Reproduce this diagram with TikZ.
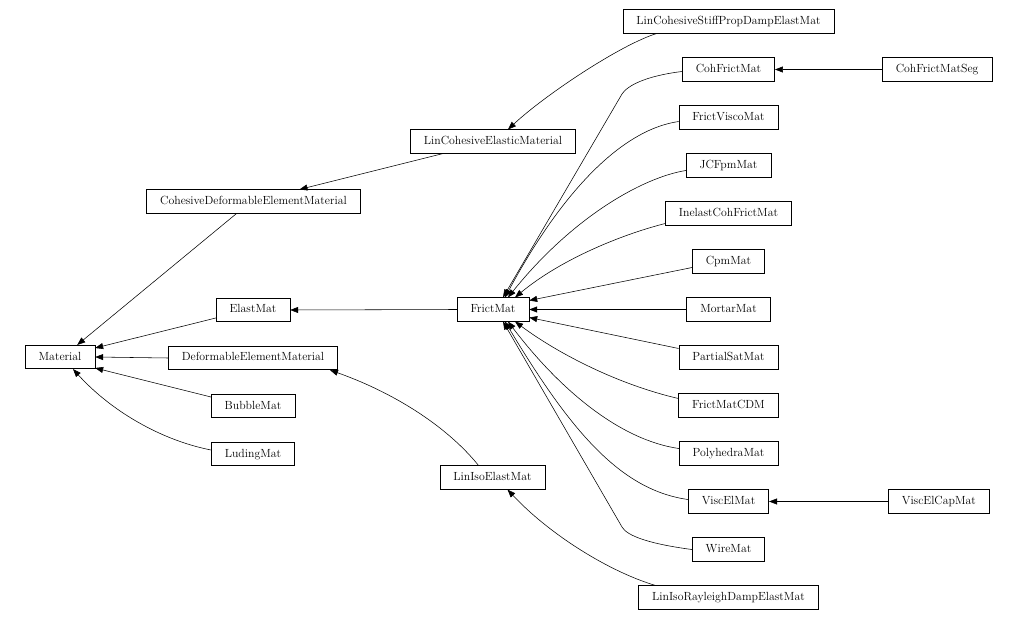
\documentclass[tikz,border=0pt]{standalone}
\usetikzlibrary{arrows.meta, positioning}
\tikzset{
    % Class box style
    classbox/.style={
        rectangle,
        draw=black,
        line width=0.6pt,
        fill=white,
        minimum height=23.5pt,
        inner xsep=13.5pt,
        inner ysep=2pt,
        text height=8.5pt,
        text depth=2.5pt,
        font=\fontsize{11.8}{14}\selectfont
    },
    % Inheritance arrow style
    inherit/.style={
        -{Triangle[length=8pt,width=6pt]},
        line width=0.55pt,
        color=black
    }
}

\begin{document}
\begin{tikzpicture}[x=1pt, y=1pt, node distance=23.9pt and 107pt]
    \useasboundingbox (0,0) rectangle (1015,-620);

    % Base class
    \node (material) [classbox] at (60,-357) {Material};

    % Second level
    \node (cdem) [classbox] at (253.5,-201.5) {CohesiveDeformableElementMaterial};
    \node (elast) [classbox] at (253,-310) {ElastMat};
    \node (dem) [classbox, below=of elast] {DeformableElementMaterial};
    \node (bubble) [classbox, below=of dem] {BubbleMat};
    \node (luding) [classbox, below=of bubble] {LudingMat};

    % Third level
    \node (lincohel) [classbox] at (493,-141.5) {LinCohesiveElasticMaterial};
    \node (frict) [classbox] at (493,-309.5) {FrictMat};
    \node (liniso) [classbox] at (492.5,-477.5) {LinIsoElastMat};

    % Fourth level
    \node (stiff) [classbox] at (728.5,-21.5) {LinCohesiveStiffPropDampElastMat};
    \node (cohfrict) [classbox, below=of stiff] {CohFrictMat};
    \node (fvisco) [classbox, below=of cohfrict] {FrictViscoMat};
    \node (jcfpm) [classbox, below=of fvisco] {JCFpmMat};
    \node (inelast) [classbox, below=of jcfpm] {InelastCohFrictMat};
    \node (cpm) [classbox, below=of inelast] {CpmMat};
    \node (mortar) [classbox, below=of cpm] {MortarMat};
    \node (partial) [classbox, below=of mortar] {PartialSatMat};
    \node (cdm) [classbox, below=of partial] {FrictMatCDM};
    \node (polyhedra) [classbox, below=of cdm] {PolyhedraMat};
    \node (viscel) [classbox, below=of polyhedra] {ViscElMat};
    \node (wire) [classbox, below=of viscel] {WireMat};
    \node (rayleigh) [classbox, below=of wire] {LinIsoRayleighDampElastMat};

    % Fifth level
    \node (cohseg) [classbox, right=of cohfrict] {CohFrictMatSeg};
    \node (viscelcap) [classbox, right=119pt of viscel] {ViscElCapMat};

    % Edges to Material
    \draw[inherit] ([xshift=-17pt]cdem.south) -- (material.35);
    \draw[inherit] ([yshift=-8pt]elast.west) -- ([yshift=9pt]material.east);
    \draw[inherit] (dem.west) -- (material.east);
    \draw[inherit] ([yshift=9pt]bubble.west) -- ([yshift=-11pt]material.east);
    \draw[inherit] ([yshift=4pt]luding.west) .. controls (160,-440) and (110,-410) .. ([xshift=13pt]material.south);

    % Edges to second level
    \draw[inherit] ([xshift=-50pt]lincohel.south) -- ([xshift=46pt]cdem.north);
    \draw[inherit] (frict.west) -- (elast.east);
    \draw[inherit] ([xshift=-14pt]liniso.north) .. controls (450,-430) and (400,-395) .. ([xshift=77pt]dem.south);

    % Edges to third level
    \draw[inherit] ([xshift=-72pt]stiff.south) .. controls (620,-45) and (545,-95) .. ([xshift=15pt]lincohel.north);
    \draw[inherit] ([xshift=-73pt]rayleigh.north) .. controls (610,-572) and (550,-535) .. ([xshift=15pt]liniso.south);
    \draw[inherit] ([yshift=-2pt]cohfrict.west) .. controls (645,-76) and (627,-86) .. (622,-94) -- ([xshift=10pt]frict.north);
    \draw[inherit] ([yshift=-4pt]fvisco.west) .. controls (620,-130) and (560,-195) .. ([xshift=12pt]frict.north);
    \draw[inherit] ([yshift=-5pt]jcfpm.west) .. controls (640,-178) and (570,-220) .. ([xshift=15pt]frict.north);
    \draw[inherit] ([yshift=-10pt]inelast.west) .. controls (620,-235) and (560,-260) .. ([xshift=22pt]frict.north);
    \draw[inherit] ([yshift=-6pt]cpm.west) -- ([yshift=9pt]frict.east);
    \draw[inherit] (mortar.west) -- (frict.east);
    \draw[inherit] ([yshift=9pt]partial.west) -- ([yshift=-8pt]frict.east);
    \draw[inherit] ([yshift=7pt]cdm.west) .. controls (620,-385) and (560,-355) .. ([xshift=22pt]frict.south);
    \draw[inherit] ([yshift=5pt]polyhedra.west) .. controls (620,-440) and (560,-390) .. ([xshift=15pt]frict.south);
    \draw[inherit] ([yshift=2pt]viscel.west) .. controls (620,-490) and (570,-430) .. ([xshift=12pt]frict.south);
    \draw[inherit] (wire.west) .. controls (650,-544) and (627,-536) .. (622,-527) -- ([xshift=10pt]frict.south);

    % Edges to fourth level
    \draw[inherit] (cohseg.west) -- (cohfrict.east);
    \draw[inherit] (viscelcap.west) -- (viscel.east);
\end{tikzpicture}
\end{document}
